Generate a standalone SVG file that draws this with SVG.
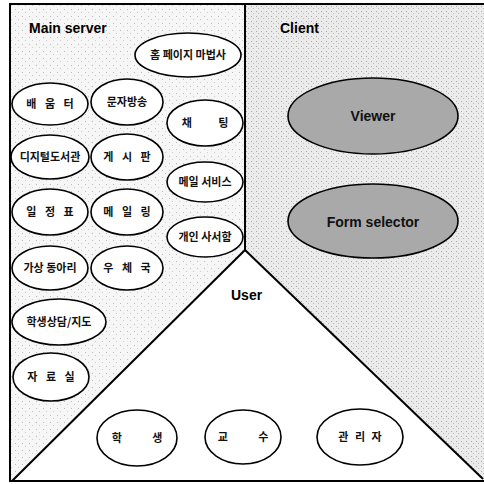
<svg xmlns="http://www.w3.org/2000/svg" width="484" height="484" viewBox="0 0 484 484">
<defs>
<style>
.frame{fill:none;stroke:#000;stroke-width:2}
.node ellipse{fill:#fff;stroke:#000;stroke-width:1.6}
.node.gray ellipse{fill:#a9a9a9;stroke:#000;stroke-width:1.6}
.ko{font-family:"Noto Sans CJK KR","Noto Sans",sans-serif;font-size:11px;font-weight:bold;fill:#111;text-anchor:middle}
.title{font-family:"Liberation Sans",Arial,sans-serif;font-size:14px;font-weight:bold;fill:#000}
.lbl{font-family:"Liberation Sans",Arial,sans-serif;font-size:14px;font-weight:bold;fill:#111;text-anchor:middle}
</style>
<pattern id="dots" width="7" height="7" patternUnits="userSpaceOnUse">
<rect width="7" height="7" fill="#f6f6f6"/>
<rect x="1" y="2" width="1" height="1" fill="#bbb"/>
<rect x="4" y="5" width="1" height="1" fill="#ccc"/>
</pattern>
<pattern id="dots2" width="5" height="5" patternUnits="userSpaceOnUse">
<rect width="5" height="5" fill="#ebebeb"/>
<rect x="1" y="1" width="1" height="1" fill="#aaa"/>
<rect x="3" y="3" width="1" height="1" fill="#bbb"/>
</pattern>
</defs>
<rect width="484" height="484" fill="#fff"/>
<g id="regions">
<polygon points="10,4 245,4 245,250 12,481 10,481" fill="url(#dots)"/>
<polygon points="245,4 484,4 484,480 245,250" fill="url(#dots2)"/>
</g>
<g id="connectors">
<rect class="frame" x="10" y="4" width="480" height="477"/>
<line class="frame" x1="245" y1="4" x2="245" y2="250"/>
<line class="frame" x1="245" y1="250" x2="12" y2="481"/>
<line class="frame" x1="245" y1="250" x2="483" y2="479"/>
</g>
<g id="titles">
<text class="title" x="29" y="33">Main server</text>
<text class="title" x="280" y="33">Client</text>
<text class="title" x="231" y="300" font-weight="normal">User</text>
</g>
<g id="n-homepage" class="node"><ellipse cx="188" cy="55" rx="53" ry="22"/><text class="ko" x="188" y="59">홈 페이지 마법사</text></g>
<g id="n-baeumteo" class="node"><ellipse cx="50" cy="104" rx="38" ry="21"/><text class="ko" x="50" y="108" word-spacing="6">배 움 터</text></g>
<g id="n-munja" class="node"><ellipse cx="127" cy="102" rx="36" ry="23"/><text class="ko" x="127" y="106">문자방송</text></g>
<g id="n-chat" class="node"><ellipse cx="205" cy="123" rx="38" ry="23"/><text class="ko" x="205" y="127" word-spacing="24">채 팅</text></g>
<g id="n-library" class="node"><ellipse cx="50" cy="157" rx="39" ry="22"/><text class="ko" x="50" y="161">디지털도서관</text></g>
<g id="n-board" class="node"><ellipse cx="127" cy="157" rx="36" ry="23"/><text class="ko" x="127" y="161" word-spacing="6">게 시 판</text></g>
<g id="n-mailservice" class="node"><ellipse cx="205" cy="182" rx="38" ry="20"/><text class="ko" x="205" y="186">메일 서비스</text></g>
<g id="n-schedule" class="node"><ellipse cx="50" cy="212" rx="38" ry="23"/><text class="ko" x="50" y="216" word-spacing="6">일 정 표</text></g>
<g id="n-mailing" class="node"><ellipse cx="127" cy="212" rx="36" ry="23"/><text class="ko" x="127" y="216" word-spacing="6">메 일 링</text></g>
<g id="n-mailbox" class="node"><ellipse cx="205" cy="237" rx="38" ry="20"/><text class="ko" x="205" y="241">개인 사서함</text></g>
<g id="n-club" class="node"><ellipse cx="50" cy="268" rx="38" ry="22"/><text class="ko" x="50" y="272">가상 동아리</text></g>
<g id="n-post" class="node"><ellipse cx="127" cy="268" rx="36" ry="22"/><text class="ko" x="127" y="272" word-spacing="6">우 체 국</text></g>
<g id="n-counsel" class="node"><ellipse cx="59" cy="322" rx="47" ry="23"/><text class="ko" x="59" y="326">학생상담/지도</text></g>
<g id="n-archive" class="node"><ellipse cx="51" cy="377" rx="38" ry="24"/><text class="ko" x="51" y="381" word-spacing="6">자 료 실</text></g>
<g id="n-viewer" class="node gray"><ellipse cx="373" cy="116" rx="85" ry="38"/><text class="lbl" x="373" y="121">Viewer</text></g>
<g id="n-form" class="node gray"><ellipse cx="373" cy="221" rx="85" ry="37"/><text class="lbl" x="373" y="227">Form selector</text></g>
<g id="n-student" class="node"><ellipse cx="137" cy="438" rx="40" ry="28"/><text class="ko" x="137" y="442" word-spacing="28">학 생</text></g>
<g id="n-professor" class="node"><ellipse cx="243" cy="437" rx="38" ry="27"/><text class="ko" x="243" y="441" word-spacing="28">교 수</text></g>
<g id="n-admin" class="node"><ellipse cx="360" cy="437" rx="43" ry="28"/><text class="ko" x="360" y="441" word-spacing="4">관 리 자</text></g>
</svg>
